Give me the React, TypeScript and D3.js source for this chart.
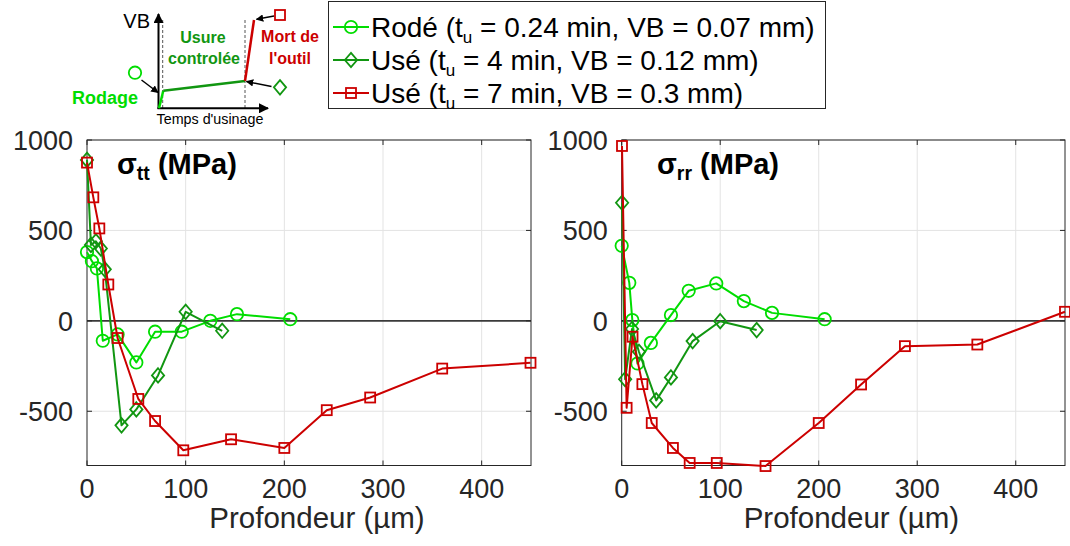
import React from "react";
import * as d3 from "d3";

// ---------- data ----------
const xTicks = [0, 100, 200, 300, 400];
const yTicks = [-500, 0, 500, 1000];
const xDomain = [0, 450];
const yDomain = [-800, 1000];

// sigma_tt panel
const ttRodeDepth = [0, 5, 10, 16, 31, 50, 69, 96, 125, 152, 206];
const ttRodeStress = [380, 330, 290, -110, -75, -230, -60, -60, 0, 37, 9];
const ttUse4Depth = [0, 4, 9, 14, 18, 35, 50, 72, 100, 137];
const ttUse4Stress = [890, 420, 440, 400, 285, -578, -490, -302, 50, -55];
const ttUse7Depth = [0, 6.4, 12.5, 21.6, 31, 52, 69, 97.6, 146, 200, 243, 287, 360, 449.5];
const ttUse7Stress = [875, 683, 511, 201, -95, -432, -554, -716, -655, -703, -494, -424, -264, -232];

// sigma_rr panel
const rrRodeDepth = [0, 7.7, 10.8, 16, 29.6, 50, 68, 96, 124, 152.6, 206];
const rrRodeStress = [415, 210, 4, -236, -122, 32, 166, 207, 109, 44, 9];
const rrUse4Depth = [0.4, 3.5, 10.5, 17.5, 35, 50, 72, 100, 137];
const rrUse4Stress = [653, -323, -45, -171, -440, -313, -112, -2, -51];
const rrUse7Depth = [0.3, 5, 11, 21, 30.5, 52, 69, 96.5, 146, 200, 243, 287.5, 361, 450];
const rrUse7Stress = [967, -481, -88, -350, -565, -703, -786, -786, -803, -565, -352, -140, -131, 50];

const legendPrefix = ["Rodé (t", "Usé (t", "Usé (t"];
const legendSuffix = [" = 0.24 min, VB = 0.07 mm)", " = 4 min, VB = 0.12 mm)", " = 7 min, VB = 0.3 mm)"];
const seriesColors = ["#00dd00", "#119611", "#cc0000"];
const seriesMarkers = ["circle", "diamond", "square"];

// ---------- layout ----------
const W = 1070;
const H = 546;
const TOP = 140;
const BOTTOM = 465.5;
const FONT = "'Liberation Sans', Arial, Helvetica, sans-serif";
const TXT = "#262626";

function Marker({ type, x, y, color }: { type: string; x: number; y: number; color: string }) {
  if (type === "circle") return <circle cx={x} cy={y} r={6.2} fill="none" stroke={color} strokeWidth={1.8} />;
  if (type === "diamond") {
    const s = 7.2;
    return <path d={`M${x},${y - s}L${x + s * 0.85},${y}L${x},${y + s}L${x - s * 0.85},${y}Z`} fill="none" stroke={color} strokeWidth={1.8} />;
  }
  return <rect x={x - 5} y={y - 5} width={10} height={10} fill="none" stroke={color} strokeWidth={1.8} />;
}

function Panel({ left, right, sub, titleX, series }: { left: number; right: number; sub: string; titleX: number; series: { xs: number[]; ys: number[] }[] }) {
  const x = d3.scaleLinear().domain(xDomain).range([left, right]);
  const y = d3.scaleLinear().domain(yDomain).range([BOTTOM, TOP]);
  const line = d3.line<[number, number]>().x((d) => x(d[0])).y((d) => y(d[1]));
  return (
    <g>
      {xTicks.filter((t) => t !== 0).map((t) => (
        <line key={"gx" + t} x1={x(t)} x2={x(t)} y1={TOP} y2={BOTTOM} stroke="#e3e3e3" strokeWidth={1} />
      ))}
      {yTicks.filter((t) => t !== 0).map((t) => (
        <line key={"gy" + t} x1={left} x2={right} y1={y(t)} y2={y(t)} stroke="#e3e3e3" strokeWidth={1} />
      ))}
      <line x1={left} x2={right} y1={y(0)} y2={y(0)} stroke="#3a3a3a" strokeWidth={1.6} />
      <rect x={left} y={TOP} width={right - left} height={BOTTOM - TOP} fill="none" stroke={TXT} strokeWidth={1} />
      {xTicks.map((t) => (
        <g key={"tx" + t}>
          <line x1={x(t)} x2={x(t)} y1={BOTTOM} y2={BOTTOM - 5} stroke={TXT} />
          <line x1={x(t)} x2={x(t)} y1={TOP} y2={TOP + 5} stroke={TXT} />
          <text x={x(t)} y={498} textAnchor="middle" fontSize={27} fill={TXT} fontFamily={FONT}>{t}</text>
        </g>
      ))}
      {yTicks.map((t) => (
        <g key={"ty" + t}>
          <line x1={left} x2={left + 5} y1={y(t)} y2={y(t)} stroke={TXT} />
          <line x1={right} x2={right - 5} y1={y(t)} y2={y(t)} stroke={TXT} />
          <text x={left - 14} y={y(t)} dy="0.36em" textAnchor="end" fontSize={27} fill={TXT} fontFamily={FONT}>{t}</text>
        </g>
      ))}
      <text x={(left + right) / 2 + 8} y={528} textAnchor="middle" fontSize={29.5} fill={TXT} fontFamily={FONT}>Profondeur (µm)</text>
      <text x={titleX} y={174} fontSize={29} fontWeight="bold" fill="#000" fontFamily={FONT}>
        σ<tspan fontSize={19.5} dy={6}>{sub}</tspan><tspan dy={-6} fontSize={29}> (MPa)</tspan>
      </text>
      {series.map((s, i) => {
        const pts = s.xs.map((v, j) => [v, s.ys[j]] as [number, number]);
        return (
          <g key={"s" + i}>
            <path d={line(pts) || ""} fill="none" stroke={seriesColors[i]} strokeWidth={2} strokeLinejoin="round" />
            {pts.map((p, j) => (
              <Marker key={j} type={seriesMarkers[i]} x={x(p[0])} y={y(p[1])} color={seriesColors[i]} />
            ))}
          </g>
        );
      })}
    </g>
  );
}

function Legend() {
  const rowsY = [27, 60, 93];
  return (
    <g>
      <rect x={328.5} y={1.5} width={497} height={107} fill="#fff" stroke={TXT} strokeWidth={1} />
      {legendPrefix.map((p, i) => (
        <g key={i}>
          <line x1={333} x2={369} y1={rowsY[i]} y2={rowsY[i]} stroke={seriesColors[i]} strokeWidth={2} />
          <Marker type={seriesMarkers[i]} x={351} y={rowsY[i]} color={seriesColors[i]} />
          <text x={371} y={rowsY[i]} dy="0.36em" fontSize={28} fill="#000" fontFamily={FONT}>
            {p}<tspan fontSize={17} dy={6}>u</tspan><tspan dy={-6} fontSize={28}>{legendSuffix[i]}</tspan>
          </text>
        </g>
      ))}
    </g>
  );
}

function Inset() {
  return (
    <g fontFamily={FONT}>
      <defs>
        <marker id="ah" viewBox="0 0 10 10" refX="9" refY="5" markerWidth="5" markerHeight="5" orient="auto-start-reverse">
          <path d="M0,0L10,5L0,10Z" fill="#000" />
        </marker>
      </defs>
      <line x1={162.7} x2={162.7} y1={20} y2={108} stroke="#555" strokeWidth={1} strokeDasharray="3,2" />
      <line x1={245} x2={245} y1={20} y2={108} stroke="#555" strokeWidth={1} strokeDasharray="3,2" />
      <line x1={158.5} x2={158.5} y1={109} y2={14} stroke="#000" strokeWidth={2} markerEnd="url(#ah)" />
      <line x1={157.5} x2={268} y1={108.3} y2={108.3} stroke="#000" strokeWidth={2} markerEnd="url(#ah)" />
      <line x1={159} x2={163.3} y1={108.3} y2={90.7} stroke="#00dd00" strokeWidth={2.5} />
      <line x1={163.3} x2={245} y1={90.7} y2={81} stroke="#119611" strokeWidth={2.5} />
      <line x1={245} x2={254} y1={81} y2={20} stroke="#cc0000" strokeWidth={2.5} />
      <text x={150} y={28} textAnchor="end" fontSize={20} fill="#000">VB</text>
      <text x={203} y={43} textAnchor="middle" fontSize={16} fontWeight="bold" fill="#119611">Usure</text>
      <text x={204} y={64} textAnchor="middle" fontSize={16} fontWeight="bold" fill="#119611">controlée</text>
      <text x={290} y={42} textAnchor="middle" fontSize={16} fontWeight="bold" fill="#cc0000">Mort de</text>
      <text x={290} y={64} textAnchor="middle" fontSize={16} fontWeight="bold" fill="#cc0000">l'outil</text>
      <text x={105} y={104} textAnchor="middle" fontSize={18} fontWeight="bold" fill="#00dd00">Rodage</text>
      <text x={210} y={124} textAnchor="middle" fontSize={14.3} fill="#000">Temps d'usinage</text>
      <Marker type="circle" x={135} y={72.7} color="#00dd00" />
      <line x1={141.5} x2={158} y1={80} y2={92.5} stroke="#000" strokeWidth={1.5} markerEnd="url(#ah)" />
      <Marker type="diamond" x={280} y={87.3} color="#119611" />
      <line x1={271.5} x2={246.5} y1={86.5} y2={81.5} stroke="#000" strokeWidth={1.5} markerEnd="url(#ah)" />
      <Marker type="square" x={280} y={15} color="#cc0000" />
      <line x1={274} x2={256.5} y1={16} y2={19.3} stroke="#000" strokeWidth={1.5} markerEnd="url(#ah)" />
    </g>
  );
}

export default function App() {
  const ttSeries = [
    { xs: ttRodeDepth, ys: ttRodeStress },
    { xs: ttUse4Depth, ys: ttUse4Stress },
    { xs: ttUse7Depth, ys: ttUse7Stress },
  ];
  const rrSeries = [
    { xs: rrRodeDepth, ys: rrRodeStress },
    { xs: rrUse4Depth, ys: rrUse4Stress },
    { xs: rrUse7Depth, ys: rrUse7Stress },
  ];
  return (
    <svg width={W} height={H} viewBox={`0 0 ${W} ${H}`} style={{ position: "absolute", left: 0, top: 0, background: "#fff" }}>
      <rect width={W} height={H} fill="#fff" />
      <Panel left={87} right={531} sub="tt" titleX={117} series={ttSeries} />
      <Panel left={621.7} right={1065} sub="rr" titleX={657} series={rrSeries} />
      <Inset />
      <Legend />
    </svg>
  );
}
